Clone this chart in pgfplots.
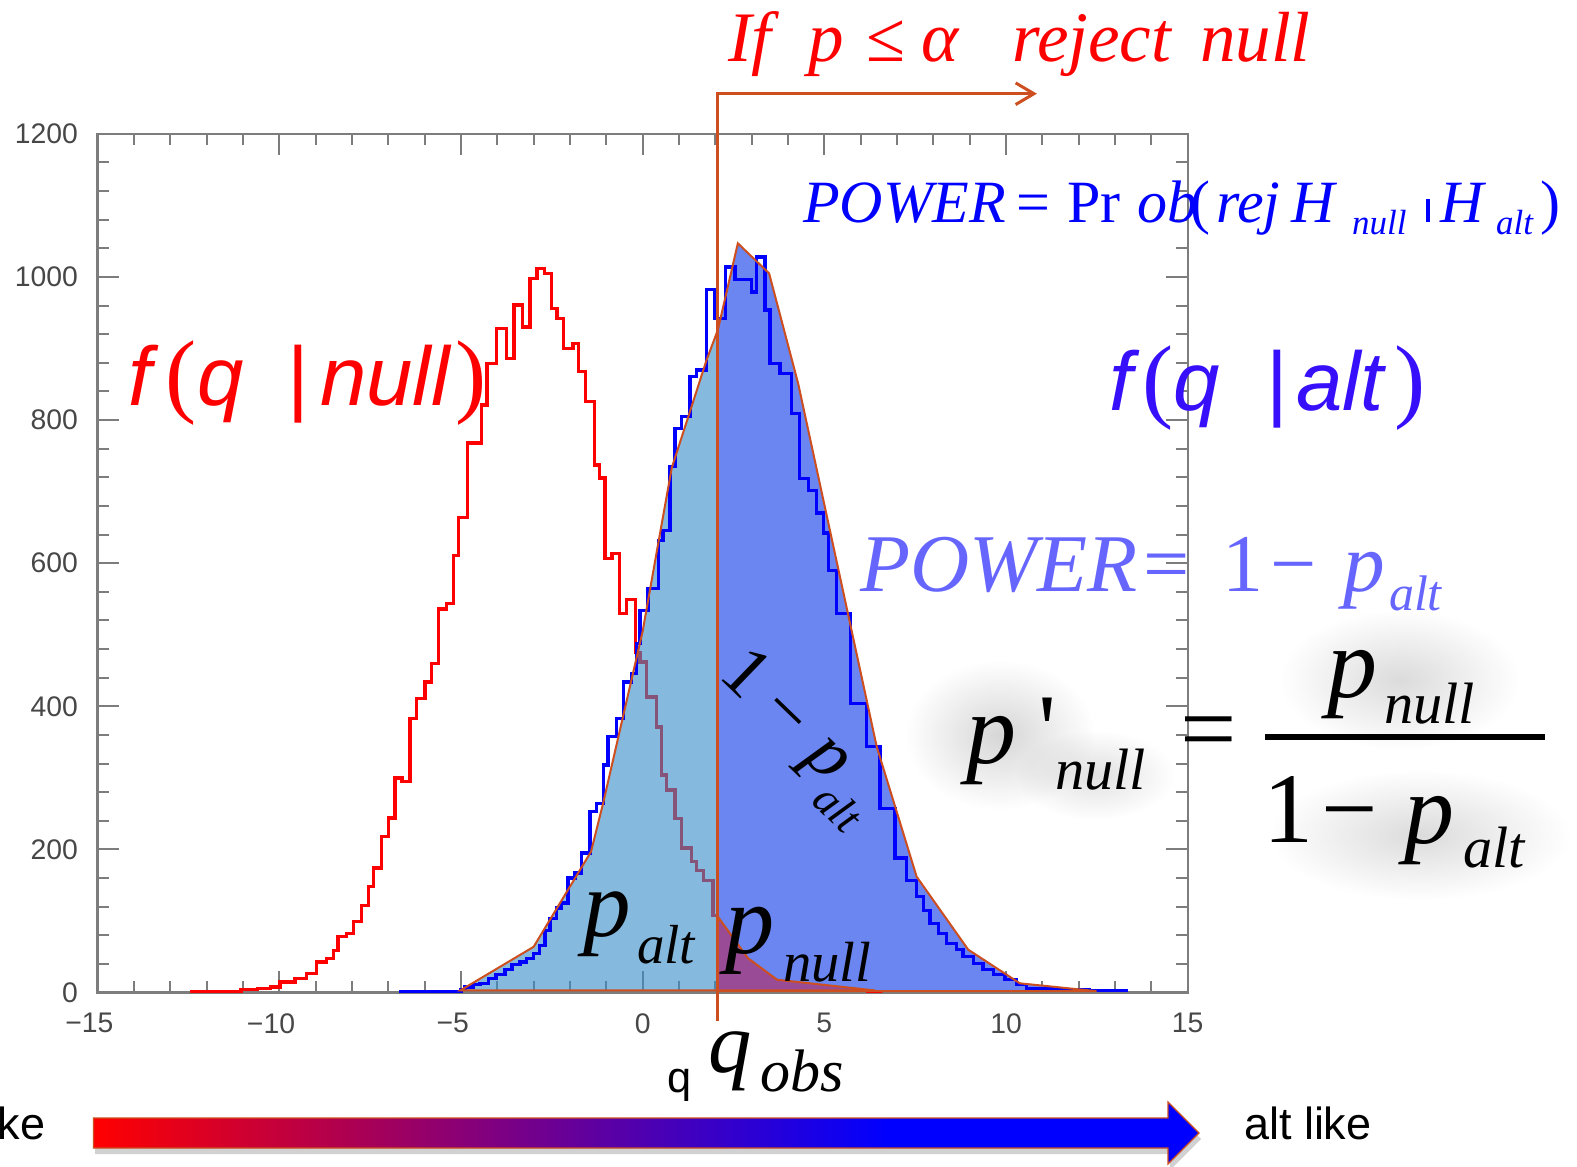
\documentclass[border=0pt]{standalone}
\usepackage{fontspec}
\setmainfont{Liberation Serif}
\newfontfamily\sans{Liberation Sans}
\usepackage{pgfplots}
\pgfplotsset{compat=1.18}
\usetikzlibrary{arrows.meta,fadings}
\tikzfading[name=glow, inner color=transparent!0, outer color=transparent!100]
\definecolor{hred}{RGB}{255,0,0}
\definecolor{hblue}{RGB}{0,0,255}
\definecolor{orng}{RGB}{205,78,30}
\definecolor{lightfill}{RGB}{52,140,200}
\definecolor{darkfill}{RGB}{107,134,240}
\definecolor{pnullfill}{RGB}{200,20,60}
\definecolor{violetb}{RGB}{55,15,250}
\definecolor{powblue}{RGB}{102,102,255}
\definecolor{axgray}{RGB}{125,125,125}
\pgfdeclarehorizontalshading{arrowshade}{100bp}{color(0bp)=(red); color(25bp)=(red); color(61bp)=(blue); color(100bp)=(blue)}
\newcommand\fs[1]{\fontsize{#1}{#1}\selectfont}
\begin{document}
\begin{tikzpicture}
\path[use as bounding box] (0pt,0pt) rectangle (473.1pt,-350.1pt);
\begin{axis}[at={(29.28pt,-297.78pt)}, anchor=south west, scale only axis,
  width=327.03pt, height=257.64pt,
  xmin=-15, xmax=15, ymin=0, ymax=1200, clip=false,
  xtick={-15,-10,-5,0,5,10,15}, ytick={0,200,400,600,800,1000,1200},
  xticklabels={\llap{−}15,\llap{−}10,\llap{−}5,0,5,10,15},
  yticklabels={0,200,400,600,800,1000,1200},
  minor x tick num=4, minor y tick num=4,
  xtick pos=both, ytick pos=both,
  tick align=inside, major tick length=6.5pt, minor tick length=3.5pt,
  axis line style={axgray, line width=0.7pt},
  every tick/.style={axgray, line width=0.6pt},
  tick label style={font=\sans\fs{8.5}, text=black!72},
  xticklabel style={yshift=-2.7pt},
  yticklabel style={xshift=-2.4pt},
]
% null hypothesis histogram (red)
\addplot[const plot, draw=hred, line width=1pt] coordinates {
(-12.45,2) (-11.05,4) (-10.6,6) (-10.25,8) (-9.98,15) (-9.57,20) (-9.25,27) (-8.97,43) (-8.7,48) (-8.51,59)
(-8.38,78) (-8.15,83) (-7.96,99) (-7.73,122) (-7.55,148) (-7.41,174) (-7.18,218) (-7.0,244) (-6.82,300) (-6.62,295)
(-6.40,383) (-6.22,411) (-5.99,434) (-5.81,460) (-5.62,536) (-5.39,544) (-5.21,611) (-5.07,664) (-4.82,768) (-4.43,821)
(-4.28,879) (-4.03,928) (-3.74,886) (-3.54,961) (-3.30,930) (-3.10,998) (-2.91,1012) (-2.71,1005) (-2.51,956) (-2.36,942)
(-2.17,900) (-1.92,907) (-1.77,868) (-1.58,826) (-1.33,737) (-1.19,719) (-1.04,607) (-0.84,614) (-0.64,530) (-0.45,549)
(-0.20,475) (-0.07,462) (0.11,413) (0.38,371) (0.52,304) (0.66,283) (0.89,243) (1.07,202) (1.35,183) (1.49,171)
(1.67,157) (1.94,108) (2.15,80) (2.35,62) (2.55,48) (2.75,38) (2.95,30) (3.15,24) (3.35,19) (3.6,15)
(3.85,12) (4.1,10) (4.4,8) (4.7,6) (5.0,5) (5.4,4) (5.8,3) (6.2,2) (6.6,1)};
% p_alt region (light)
\addplot[draw=none, fill=lightfill, fill opacity=0.6] coordinates {
(-5.02,3) (-3.0,64) (-1.42,197) (-1.1,262) (0.0,505) (0.43,628) (0.80,733) (1.76,884) (2.07,926) (2.07,3)} -- cycle;
% 1-p_alt region (dark)
\addplot[draw=none, fill=darkfill] coordinates {
(2.07,926) (2.62,1047) (3.48,1005) (4.28,851) (6.44,344) (7.54,162) (8.96,60) (10.38,13) (12.49,2) (2.07,2)} -- cycle;
% p_null region
\addplot[draw=none, fill=pnullfill, fill opacity=0.5] coordinates {
(2.07,106) (2.9,48) (3.7,18) (6.4,3) (2.07,3)} -- cycle;
% alternative hypothesis histogram (blue)
\addplot[const plot, draw=hblue, line width=1pt] coordinates {
(-6.7,2) (-5.0,4) (-4.89,8) (-4.66,11) (-4.48,13) (-4.25,20) (-4.04,25) (-3.79,32) (-3.6,39) (-3.38,43)
(-3.19,48) (-3.01,55) (-2.83,66) (-2.69,87) (-2.55,104) (-2.37,118) (-2.23,125) (-2.05,160) (-1.86,167) (-1.68,195)
(-1.45,253) (-1.27,264) (-1.08,318) (-0.95,358) (-0.72,383) (-0.53,434) (-0.30,446) (-0.17,488) (-0.07,534) (0.15,565)
(0.43,632) (0.56,646) (0.75,735) (0.89,788) (1.07,805) (1.30,861) (1.49,870) (1.76,982) (1.99,942) (2.28,1014)
(2.54,996) (3.0,979) (3.14,1028) (3.37,954) (3.5,879) (3.78,865) (4.10,809) (4.32,718) (4.56,702) (4.79,670)
(4.97,642) (5.11,590) (5.34,530) (5.72,404) (6.16,344) (6.53,257) (6.94,188) (7.26,157) (7.54,134) (7.72,115)
(7.91,97) (8.14,83) (8.37,69) (8.64,60) (8.82,50) (9.10,41) (9.37,32) (9.65,25) (9.97,18) (10.29,11)
(10.57,6) (11.0,5) (11.6,4) (12.3,3) (13.35,3)};
% hand drawn outlines
\addplot[draw=orng, line width=0.6pt] coordinates {
(-5.02,3) (-3.0,64) (-1.42,197) (-1.1,262) (0.0,505) (0.43,628) (0.80,733) (1.76,884) (2.07,926) (2.07,3)} -- cycle;
\addplot[draw=orng, line width=0.6pt] coordinates {
(2.07,926) (2.62,1047) (3.48,1005) (4.28,851) (6.44,344) (7.54,162) (8.96,60) (10.38,13) (12.49,2) (2.07,2)} -- cycle;
\addplot[draw=orng, line width=0.6pt] coordinates {
(2.07,106) (2.9,48) (3.7,18) (6.4,3) (2.07,3)} -- cycle;
% q_obs line and arrow
\draw[orng, line width=0.9pt, -{Straight Barb[length=5.5pt,width=6.5pt]}] (axis cs:2.07,-40) -- (axis cs:2.07,1256) -- (axis cs:10.85,1256);
\end{axis}
\begin{scope}[x=0.3pt,y=-0.3pt, every node/.style={inner sep=0pt, outer sep=0pt, anchor=base west}]
% glow behind the big formula
\fill[black, opacity=0.16, path fading=glow] (1000,735) ellipse (95 and 75);
\fill[black, opacity=0.12, path fading=glow] (1095,775) ellipse (80 and 45);
\fill[black, opacity=0.14, path fading=glow] (1400,680) ellipse (120 and 70);
\fill[black, opacity=0.14, path fading=glow] (1420,835) ellipse (150 and 65);
% title
\node[text=hred, font={\fs{21.3}\itshape}] at (728,62) {If};
\node[text=hred, font={\fs{21.3}\itshape}] at (808,62) {p};
\node[text=hred, font={\fs{21.3}}] at (866,62) {≤};
\node[text=hred, font={\fs{21.3}\itshape}] at (921,62) {α};
\node[text=hred, font={\fs{21.3}\itshape}] at (1012,62) {reject};
\node[text=hred, font={\fs{21.3}\itshape}] at (1200,62) {null};
% POWER = Prob(...)
\node[text=hblue, font={\fs{18}\itshape}] at (803,222) {POWER};
\node[text=hblue, font={\fs{18}}] at (1016,222) {=};
\node[text=hblue, font={\fs{18}}] at (1067,222) {Pr};
\node[text=hblue, font={\fs{18}\itshape}] at (1137,222) {ob};
\node[text=hblue, font={\fs{18}}] at (1190,222) {(};
\node[text=hblue, font={\fs{18}\itshape}] at (1216,222) {rej};
\node[text=hblue, font={\fs{18}\itshape}] at (1291,222) {H};
\node[text=hblue, font={\fs{10.5}\itshape}] at (1352,235) {null};
\node[text=hblue] at (1426,222) {\rule{1.3pt}{6.8pt}};
\node[text=hblue, font={\fs{18}\itshape}] at (1440,222) {H};
\node[text=hblue, font={\fs{10.5}\itshape}] at (1496,235) {alt};
\node[text=hblue, font={\fs{18}}] at (1540,222) {)};
% f(q|null)
\node[text=hred, font={\sans\fs{25}\itshape}] at (128,405) {f};
\node[text=hred, font={\fs{28}}] at (165,405) {(};
\node[text=hred, font={\sans\fs{25}\itshape}] at (197,405) {q};
\node[text=hred, font={\sans\fs{25}}] at (287,405) {|};
\node[text=hred, font={\sans\fs{25}\itshape}] at (320,405) {null};
\node[text=hred, font={\fs{28}}] at (455,405) {)};
% f(q|alt)
\node[text=violetb, font={\sans\fs{25}\itshape}] at (1109,410) {f};
\node[text=violetb, font={\fs{28}}] at (1142,410) {(};
\node[text=violetb, font={\sans\fs{25}\itshape}] at (1173,410) {q};
\node[text=violetb, font={\sans\fs{25}}] at (1266,410) {|};
\node[text=violetb, font={\sans\fs{25}\itshape}] at (1296,410) {alt};
\node[text=violetb, font={\fs{28}}] at (1394,410) {)};
% POWER = 1 - p_alt
\node[text=powblue, font={\fs{24.6}\itshape}] at (860,591) {POWER};
\node[text=powblue, font={\fs{24.6}}] at (1143,591) {=};
\node[text=powblue, font={\fs{24.6}}] at (1222,591) {1};
\node[text=powblue, font={\fs{24.6}}] at (1270,591) {−};
\node[text=powblue, font={\fs{25}\itshape}] at (1343,591) {p};
\node[text=powblue, font={\fs{15}\itshape}] at (1389,610) {alt};
% p'_null = p_null / (1 - p_alt)
\node[font={\fs{30}\itshape}] at (966,763) {p};
\node[font={\fs{30}}] at (1038,763) {\textquotesingle};
\node[font={\fs{17.5}\itshape}] at (1055,789) {null};
\node[font={\fs{30}}] at (1180,762) {=};
\fill (1265,734) rectangle (1544.5,739.5);
\node[font={\fs{30}\itshape}] at (1327,697) {p};
\node[font={\fs{17.5}\itshape}] at (1384,723) {null};
\node[font={\fs{30}}] at (1263,842.5) {1};
\node[font={\fs{30}}] at (1321,842.5) {−};
\node[font={\fs{30}\itshape}] at (1404,843) {p};
\node[font={\fs{17.5}\itshape}] at (1463,867.5) {alt};
% rotated 1 - p_alt
\node[rotate=-44, font={\fs{22}}] at (717,676) {1\hspace{0.25em}−\hspace{0.3em}{\itshape p}\raisebox{-0.35em}{\fs{13.5}\itshape alt}};
% p_alt, p_null labels
\node[font={\fs{28.5}\itshape}] at (583,936) {p};
\node[font={\fs{16.5}\itshape}] at (637,963) {alt};
\node[font={\fs{29.5}\itshape}] at (725,953) {p};
\node[font={\fs{17}\itshape}] at (783,981.7) {null};
% q_obs
\node[font={\fs{26}\itshape}] at (708,1072) {q};
\node[font={\fs{18}\itshape}] at (760,1091.7) {obs};
\node[font={\sans\fs{13}}] at (667,1092) {q};
% bottom gradient arrow
\fill[black, opacity=0.18] (95,1124) -- (1170,1124) -- (1170,1108) -- (1201,1139) -- (1170,1170) -- (1170,1154) -- (95,1154) -- cycle;
\shadedraw[shading=arrowshade, draw=orng, line width=0.35pt] (93.5,1118) -- (1168,1118) -- (1168,1102) -- (1199,1133) -- (1168,1164) -- (1168,1148) -- (93.5,1148) -- cycle;
\node[anchor=base east, font={\sans\fs{13.5}}] at (45.5,1139) {null like};
\node[font={\sans\fs{13.5}}] at (1244,1139) {alt like};
\end{scope}
\end{tikzpicture}
\end{document}
